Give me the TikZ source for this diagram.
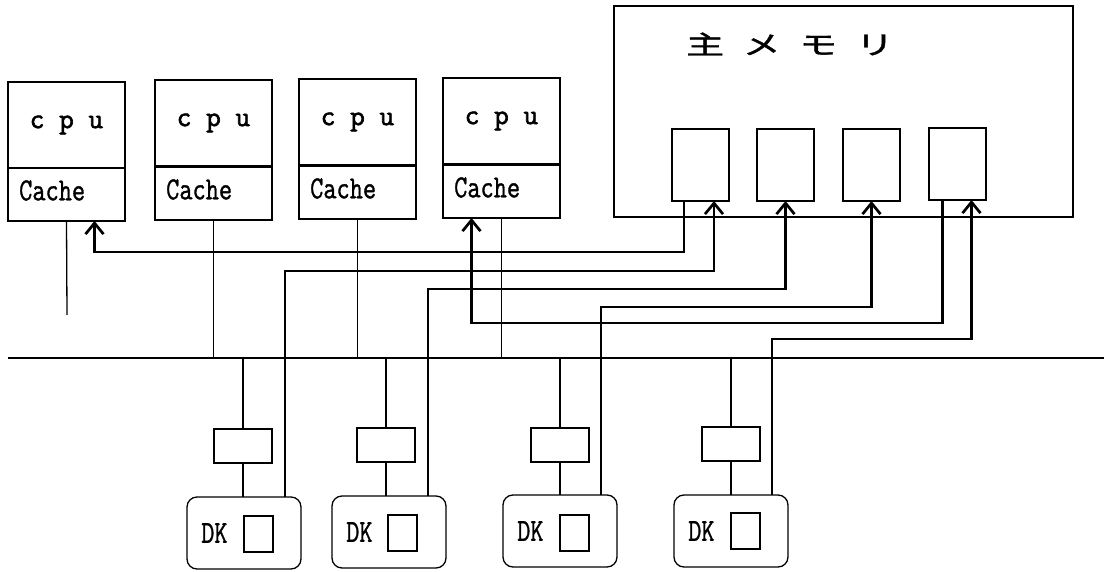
\documentclass[tikz,border=0pt]{standalone}
\usepackage{fontspec}
\newfontfamily\cjk[FakeBold=1.2]{Noto Sans CJK JP}
\newfontfamily\monob[FakeBold=2.2]{Latin Modern Mono}
\newfontfamily\monom[FakeBold=1.2]{Latin Modern Mono}
\usetikzlibrary{arrows.meta}
\begin{document}
\begin{tikzpicture}[x=1pt,y=-1pt,
  box/.style={draw, line width=1.3pt, inner sep=0pt, outer sep=0pt, anchor=north west},
  cpubox/.style={box, minimum width=117pt, minimum height=86pt,
    font=\monob\fontsize{28.5}{28.5}\selectfont},
  cachebox/.style={box, minimum width=117pt, minimum height=53pt},
  cachetxt/.style={anchor=west, inner sep=0pt, font=\monom\fontsize{32}{32}\selectfont},
  membox/.style={box, minimum width=57pt, minimum height=72pt},
  ctlbox/.style={box, minimum width=58pt, minimum height=34pt},
  dkbox/.style={box, rounded corners=10pt, minimum width=114pt, minimum height=72pt},
  sqbox/.style={box, minimum width=29pt, minimum height=36pt},
  dktxt/.style={anchor=west, inner sep=0pt, font=\monom\fontsize{32}{32}\selectfont},
  thin/.style={line width=1.3pt},
  conn/.style={line width=2.7pt},
  toarr/.style={-{Straight Barb[length=11pt,width=18pt]}}
]
\useasboundingbox (0,0) rectangle (1104,572);
\fill[white] (0,0) rectangle (1104,572);

% CPUs
\node[cpubox] (cpu1) at (8,82) {c p u};
\node[cachebox] (cache1) at (8,168) {};
\node[cpubox] (cpu2) at (155,80) {c p u};
\node[cachebox] (cache2) at (155,167) {};
\node[cpubox] (cpu3) at (299,79) {c p u};
\node[cachebox] (cache3) at (299,166) {};
\node[cpubox] (cpu4) at (443,78) {c p u};
\node[cachebox] (cache4) at (443,165) {};
\foreach \i in {1,2,3,4}{
  \node[cachetxt] (cache\i t) at ([xshift=11pt,yshift=4pt]cache\i.west) {\scalebox{0.8}[1]{Cache}};
}

% main memory
\node[box, minimum width=459pt, minimum height=211pt] (mem) at (614,6) {};
\node[inner sep=0pt] (title) at (790,44)
  {\cjk\fontsize{26}{26}\selectfont\scalebox{1.45}[1]{主\hspace{0.5em}メ\hspace{0.5em}モ\hspace{0.5em}リ}};
\node[membox] (m1) at (672,129) {};
\node[membox] (m2) at (757,129) {};
\node[membox] (m3) at (843,129) {};
\node[membox] (m4) at (929,128) {};

% controllers and disks
\node[ctlbox] (ctl1) at (214,429) {};
\node[ctlbox] (ctl2) at (357,428) {};
\node[ctlbox] (ctl3) at (531,428) {};
\node[ctlbox] (ctl4) at (702,427) {};
\node[dkbox] (dk1) at (187,497) {};
\node[dkbox] (dk2) at (332,496) {};
\node[dkbox] (dk3) at (503,495) {};
\node[dkbox] (dk4) at (674,495) {};
\node[sqbox] (dk1s) at (244,516) {};
\node[sqbox] (dk2s) at (388,515) {};
\node[sqbox] (dk3s) at (560,515) {};
\node[sqbox] (dk4s) at (731,513) {};
\node[dktxt] (dk1t) at ([xshift=14pt]dk1.west) {\scalebox{0.8}[1]{DK}};
\node[dktxt] (dk2t) at ([xshift=14pt]dk2.west) {\scalebox{0.8}[1]{DK}};
\node[dktxt] (dk3t) at ([xshift=14pt]dk3.west) {\scalebox{0.8}[1]{DK}};
\node[dktxt] (dk4t) at ([xshift=14pt]dk4.west) {\scalebox{0.8}[1]{DK}};

% bus
\coordinate (busL) at (8,358);
\coordinate (busR) at (1104,358);
\draw[thin] (busL) -- (busR);
\coordinate (c1end) at (67,315);
\draw[thin] (cache1.south) -- (c1end);
\draw[thin] (cache2.south) -- (cache2.south |- busL);
\draw[thin] (cache3.south) -- (cache3.south |- busL);
\draw[thin] (cache4.south) -- (cache4.south |- busL);
\foreach \i in {1,2,3,4}{
  \draw[thin] (ctl\i.north |- busL) -- (ctl\i.north);
  \draw[thin] (ctl\i.south) -- (ctl\i.south |- dk\i.north);
}

% levels
\coordinate (L1) at (0,252);
\coordinate (L2) at (0,271);
\coordinate (L3) at (0,289);
\coordinate (L4) at (0,307);
\coordinate (L5) at (0,323);
\coordinate (L6) at (0,339);

% ports
\coordinate (m1out) at ([xshift=-16.5pt]m1.south);
\coordinate (m1in) at ([xshift=13.5pt]m1.south);
\coordinate (m4out) at ([xshift=-15pt]m4.south);
\coordinate (m4in) at ([xshift=14pt]m4.south);
\coordinate (c1in) at ([xshift=28pt]cache1.south);
\coordinate (c4in) at ([xshift=-30pt]cache4.south);
\coordinate (d1) at ([xshift=-16pt]dk1.north east);
\coordinate (d2) at ([xshift=-18pt]dk2.north east);
\coordinate (d3) at ([xshift=-16pt]dk3.north east);
\coordinate (d4) at ([xshift=-16pt]dk4.north east);

% thick connectors
\draw[conn,toarr] (m1out) -- (m1out |- L1) -- (c1in |- L1) -- (c1in);
\draw[conn,toarr] (d1) -- (d1 |- L2) -- (m1in |- L2) -- (m1in);
\draw[conn,toarr] (d2) -- (d2 |- L3) -- (m2.south |- L3) -- (m2.south);
\draw[conn,toarr] (d3) -- (d3 |- L4) -- (m3.south |- L4) -- (m3.south);
\draw[conn,toarr] (m4out) -- (m4out |- L5) -- (c4in |- L5) -- (c4in);
\draw[conn,toarr] (d4) -- (d4 |- L6) -- (m4in |- L6) -- (m4in);
\end{tikzpicture}
\end{document}
